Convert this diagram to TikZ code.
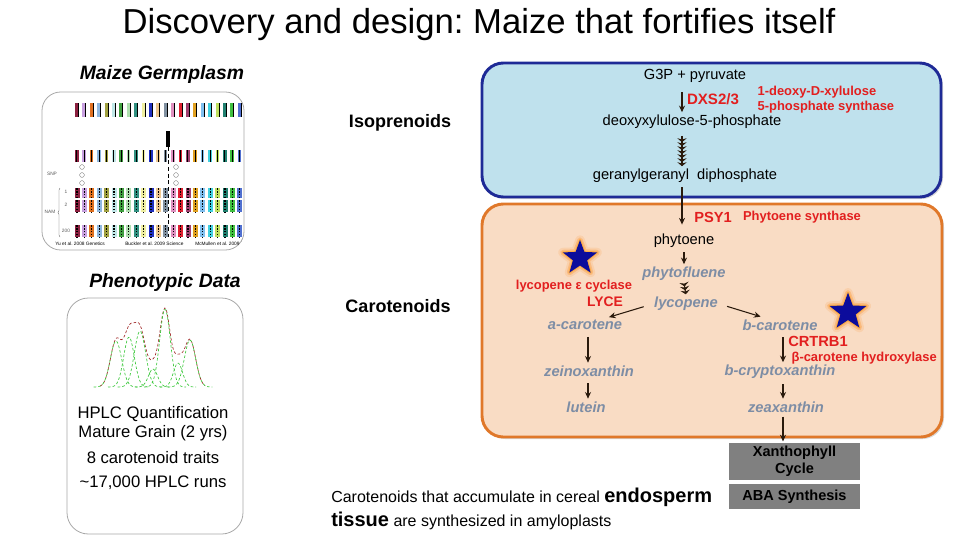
\documentclass[tikz,border=0pt]{standalone}
\usepackage{fontspec}
\setmainfont{Liberation Sans}
\frenchspacing
\usetikzlibrary{arrows.meta, positioning, shapes.geometric, shadows, calc, decorations.pathreplacing}

\definecolor{boxblue}{HTML}{BFE1ED}
\definecolor{edgeblue}{HTML}{1E2A96}
\definecolor{boxpeach}{HTML}{F9DCC4}
\definecolor{edgeorange}{HTML}{E0782A}
\definecolor{enzred}{HTML}{E21F1F}
\definecolor{intgray}{HTML}{7D8DA5}
\definecolor{arrowdark}{HTML}{2A1A0C}
\definecolor{blockgray}{HTML}{808080}
\definecolor{starblue}{HTML}{0C0C9C}
\definecolor{panelgray}{HTML}{A8A8A8}
\definecolor{peakred}{HTML}{A02828}
\definecolor{peakgreen}{HTML}{3CC83C}

% one gaussian peak: centre, height, width
\newcommand{\pk}[3]{(#2)*exp(-min(((\x-(#1))/(#3))*((\x-(#1))/(#3)),9))}

\tikzset{
  mtip/.tip={Stealth[length=3pt,width=7pt,sep=0pt]},
  flow/.style={arrowdark, line width=0.8pt, shorten <=2pt, shorten >=1pt, -{Stealth[length=5pt,width=4.5pt]}},
  multiflow/.style={arrowdark, line width=0.8pt, shorten <=2pt, shorten >=1pt},
  metab/.style={font=\fontsize{11}{13}\selectfont, inner sep=1pt},
  interm/.style={intgray, font=\fontsize{11}{13}\selectfont\bfseries\itshape, inner sep=1pt},
  enzyme/.style={enzred, font=\fontsize{11}{13}\selectfont\bfseries, inner sep=1pt},
  enzname/.style={enzred, font=\fontsize{9.7}{11.25}\selectfont\bfseries, inner sep=1pt, align=left},
  block/.style={fill=blockgray, font=\fontsize{10.9}{13}\selectfont\bfseries, align=center, inner sep=0pt, minimum width=98pt},
  panel/.style={draw=panelgray, line width=0.6pt, rounded corners=14pt},
  heading/.style={font=\fontsize{14.5}{17}\selectfont\bfseries\itshape},
  hplc/.style={font=\fontsize{12.5}{14.25}\selectfont, align=center, inner sep=0pt},
  tinylab/.style={font=\fontsize{3.6}{4}\selectfont, inner sep=0pt, gray!70!black},
  glowstar/.style={star, star points=5, star point ratio=2.4, inner sep=0pt, fill=starblue, line join=round,
    preaction={draw=orange, line width=7pt, opacity=0.12},
    preaction={draw=orange, line width=4pt, opacity=0.25},
    preaction={draw=orange!80!yellow, line width=1.6pt, opacity=0.45}},
}

\begin{document}
\begin{tikzpicture}[x=0.75pt, y=-0.75pt]
  \useasboundingbox (0,0) rectangle (960,540);

  % Title
  \node[font=\fontsize{26}{30}\selectfont] (title) at (479,25) {Discovery and design: Maize that fortifies itself};

  % Left panels
  \node[heading] (germ) at (162,74) {Maize Germplasm};
  \node[heading] (pheno) at (165,282) {Phenotypic Data};
  \draw[panel] (42,92) rectangle (244,250);
  \draw[panel, rounded corners=16pt] (67,298) rectangle (243,534);

  % Germplasm bars
  \begin{scope}
    \clip[rounded corners=14pt] (42,92) rectangle (244,250);
    \foreach \hex [count=\i from 0] in {8B2040,C8A0E0,E07020,90B8E0,A0A040,C0E8E8,40A040,B0E0B0,309080,F0F0A0,2030C0,F0C890,8090A0,E090C0,E02030,A04070,E0A020,80C0F0,40D0E0,C0E060,208070,40C040,5070D0} {
      \definecolor{gcol}{HTML}{\hex}
      \pgfmathsetmacro{\gx}{75+7.4*\i}
      \fill[gcol] (\gx,103) rectangle ++(3,14);
      \fill[black] (\gx+3,103) rectangle ++(1,14);
      \fill[gcol] (\gx,150) rectangle ++(3.5,12);
      \fill[black] (\gx+1.3,150) rectangle ++(1,12);
      \foreach \ry/\rh in {188/10, 200/12, 225/12} {
        \fill[gcol] (\gx-0.5,\ry) rectangle ++(5,\rh);
        \draw[black, line width=0.9pt, dash pattern=on 1.2pt off 1pt] (\gx+2,\ry) -- ++(0,\rh);
      }
    }
    \fill[black] (166,131) rectangle ++(4,16);
    \draw[black, line width=0.4pt, densely dashed] (168,147) -- (168,237);
    \foreach \cy in {167,175,183} {
      \draw[gray, line width=0.3pt] (82,\cy) circle[radius=1.8pt];
      \draw[gray, line width=0.3pt] (176,\cy) circle[radius=1.8pt];
    }
    \node[tinylab] (snp) at (52,174) {SNP};
    \node[tinylab] (nam) at (50,212) {NAM};
    \node[tinylab] (rowa) at (66,192) {1};
    \node[tinylab] (rowb) at (66,205) {2};
    \node[tinylab] (rowc) at (66,231) {200};
    \draw[gray!70!black, line width=0.3pt, decorate, decoration={brace, amplitude=1.5pt}] (60,237) -- (60,188);
    \node[tinylab, anchor=west, black] (citea) at (55,244) {Yu et al. 2008 Genetics};
    \node[tinylab, anchor=west, black] (citeb) at (125,244) {Buckler et al. 2009 Science};
    \node[tinylab, anchor=west, black] (citec) at (195,244) {McMullen et al. 2009 Science};
  \end{scope}

  % HPLC trace
  \draw[peakred, line width=0.5pt, dash pattern=on 2pt off 1.5pt] plot[domain=100:205, samples=90, smooth]
    (\x,{387-\pk{116}{46}{8}-\pk{129}{50}{7.5}-\pk{140}{56}{8}-\pk{153}{18}{6.5}-\pk{165}{78}{7.5}-\pk{178}{24}{6.5}-\pk{190}{47}{8}});
  \foreach \c/\h/\s in {116/46/8, 129/50/7.5, 140/56/8, 153/18/6.5, 165/78/7.5, 178/24/6.5, 190/47/8} {
    \pgfmathsetmacro{\lo}{\c-2.8*\s}
    \pgfmathsetmacro{\hi}{\c+2.8*\s}
    \draw[peakgreen, line width=0.5pt, dash pattern=on 2pt off 1.5pt] plot[domain=\lo:\hi, samples=30, smooth] (\x,{387-\pk{\c}{\h}{\s}});
  }

  \node[hplc] (quant) at (153,423.5) {HPLC Quantification\\Mature Grain (2 yrs)};
  \node[hplc] (traits) at (153,458) {8 carotenoid traits};
  \node[hplc] (runs) at (153,483) {\textasciitilde17,000 HPLC runs};

  % Side labels
  \node[font=\fontsize{13.5}{16}\selectfont\bfseries] (iso) at (400,123) {Isoprenoids};
  \node[font=\fontsize{13.5}{16}\selectfont\bfseries] (caro) at (398,306) {Carotenoids};

  % Pathway boxes
  \draw[draw=edgeblue, fill=boxblue, line width=2.2pt, rounded corners=16pt,
    drop shadow={shadow xshift=1.5pt, shadow yshift=-1.5pt, opacity=0.3}] (482,63) rectangle (941,197);
  \draw[draw=edgeorange, fill=boxpeach, line width=2.2pt, rounded corners=16pt,
    drop shadow={shadow xshift=1.5pt, shadow yshift=-1.5pt, opacity=0.3}] (482,204) rectangle (942,437);

  % Isoprenoid steps
  \coordinate (upaxis) at (682,0);
  \node[metab] (g3p) at (695,76) {G3P + pyruvate};
  \node[enzyme, font=\fontsize{11.3}{13}\selectfont\bfseries] (dxs) at (713,99) {DXS2/3};
  \node[enzname, anchor=west] (dxsname) at (756,99.5) {1-deoxy-D-xylulose\\5-phosphate synthase};
  \node[metab] (dxp) at (692,122) {deoxyxylulose-5-phosphate};
  \node[metab] (ggpp) at (685,176) {geranylgeranyl\ \ diphosphate};

  % Carotenoid steps
  \node[enzyme] (psy) at (713,217) {PSY1};
  \node[enzname] (psyname) at (802,217) {Phytoene synthase};
  \node[metab] (phy) at (684,241) {phytoene};
  \node[interm] (pfl) at (684,274) {phytofluene};
  \node[interm] (lyc) at (686,304) {lycopene};

  \node[enzname] (lycename) at (574,286) {lycopene ε cyclase};
  \node[enzyme, font=\fontsize{10.4}{13}\selectfont\bfseries] (lyce) at (605,302) {LYCE};
  \node[interm] (acar) at (585,325) {a-carotene};
  \node[interm] (zein) at (589,371) {zeinoxanthin};
  \node[interm] (lut) at (586,407) {lutein};

  \node[interm] (bcar) at (780,325) {b-\textit{carotene}};
  \node[enzyme] (crtrb) at (818,341) {CRTRB1};
  \node[enzname, anchor=west] (crtrbname) at (790,358) {β-carotene hydroxylase};
  \node[interm] (bcry) at (780,372) {b-\textit{cryptoxanthin}};
  \node[interm] (zea) at (786,407) {zeaxanthin};

  % Stars
  \node[glowstar, minimum size=27pt] (starl) at (580,258) {};
  \node[glowstar, minimum size=29pt] (starr) at (848,312) {};

  % Downstream blocks
  \node[block, minimum height=27.75pt] (xan) at (794.5,461.5) {Xanthophyll\\Cycle};
  \node[block, minimum height=18.75pt] (aba) at (794.5,496.5) {ABA Synthesis};

  % Arrows
  \coordinate (laxis) at (588,0);
  \coordinate (raxis) at (783,0);
  \draw[flow, shorten <=6pt] (g3p.south -| upaxis) -- (dxp.north -| upaxis);
  \draw[multiflow, shorten <=4pt, -{mtip[]mtip[]mtip[]mtip[]mtip[]mtip[]mtip[]}] (dxp.south -| upaxis) -- (ggpp.north -| upaxis);
  \draw[flow] (ggpp.south -| upaxis) -- ([yshift=5pt]phy.north -| upaxis);
  \draw[flow] (phy.south) -- (pfl.north);
  \draw[multiflow, -{mtip[]mtip[]mtip[]}] (pfl.south) -- (lyc.north);
  \draw[flow, shorten <=7pt] (lyc.west) -- ($(acar.north east)+(-16,-1)$);
  \draw[flow, shorten <=6pt] (lyc.east) -- ($(bcar.north west)+(21,-1)$);
  \draw[flow, shorten <=4pt] (acar.south -| laxis) -- (zein.north -| laxis);
  \draw[flow, shorten <=4pt] (zein.south -| laxis) -- (lut.north -| laxis);
  \draw[flow, shorten <=4pt] (bcar.south -| raxis) -- (bcry.north -| raxis);
  \draw[flow, shorten <=3pt] (bcry.south -| raxis) -- (zea.north -| raxis);
  \draw[flow] (zea.south -| raxis) -- (xan.north -| raxis);

  % Caption
  \node[anchor=west, font=\fontsize{12}{18}\selectfont, align=left, inner sep=0pt] (caption) at (331,509)
    {Carotenoids that accumulate in cereal {\fontsize{15}{18}\selectfont\bfseries endosperm}\\{\fontsize{15}{18}\selectfont\bfseries tissue} are synthesized in amyloplasts};
\end{tikzpicture}
\end{document}
